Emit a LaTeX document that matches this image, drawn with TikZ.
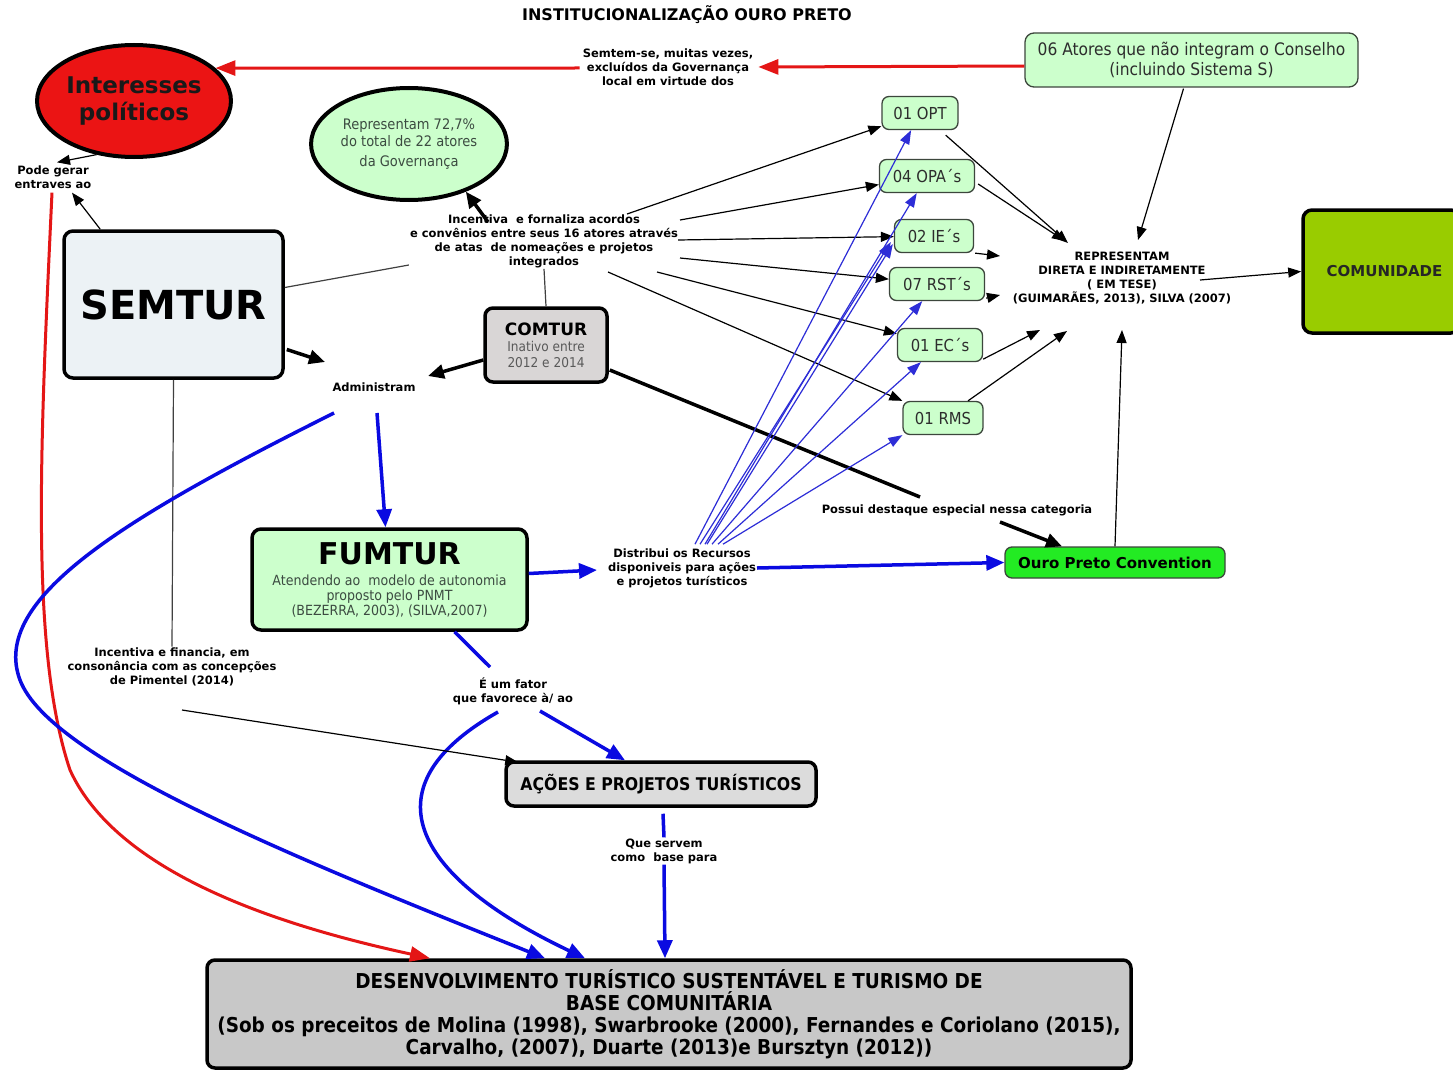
\documentclass[tikz,border=0pt]{standalone}
\usepackage{fontspec}
\setmainfont{DejaVu Sans}
\newfontfamily\cond[Extension=.ttf,UprightFont=DejaVuSansCondensed,BoldFont=DejaVuSansCondensed-Bold]{DejaVuSansCondensed}
\usetikzlibrary{arrows.meta,shapes.geometric,calc}

\definecolor{mint}{RGB}{204,255,204}
\definecolor{boxedge}{RGB}{60,70,60}
\definecolor{boxtext}{RGB}{45,45,45}
\definecolor{softtext}{RGB}{60,75,65}
\definecolor{redfill}{RGB}{235,20,20}
\definecolor{redline}{RGB}{228,22,22}
\definecolor{blueline}{RGB}{10,10,225}
\definecolor{thinblue}{RGB}{45,45,215}
\definecolor{semfill}{RGB}{236,242,245}
\definecolor{comfill}{RGB}{217,214,214}
\definecolor{acofill}{RGB}{220,220,220}
\definecolor{devfill}{RGB}{200,200,200}
\definecolor{comufill}{RGB}{153,204,0}
\definecolor{opcfill}{RGB}{35,235,35}

\newcommand{\lblfont}{\fontsize{11.5}{14}\selectfont\bfseries}

\begin{document}
\begin{tikzpicture}[x=1pt,y=-1pt,
  every node/.style={inner sep=1pt, align=center},
  labeltext/.style={font=\lblfont, text=black},
  bigbox/.style={draw=black, line width=3.5pt, rounded corners=9pt, align=center},
  greenbox/.style={draw=boxedge, fill=mint, rounded corners=7pt, line width=1.3pt,
    minimum height=33pt, font=\cond\fontsize{16.5}{19}\selectfont, text=boxtext},
  tarr/.style={draw=black, line width=1.2pt, -{Triangle[length=13pt,width=10pt]}},
  tline/.style={draw=black!75, line width=1.2pt},
  karr/.style={draw=black, line width=3.5pt, -{Triangle[length=16pt,width=14pt]}},
  kline/.style={draw=black, line width=3.5pt},
  barr/.style={draw=blueline, line width=3.5pt, -{Triangle[length=18pt,width=15pt]}},
  bline/.style={draw=blueline, line width=3.5pt},
  bthin/.style={draw=thinblue, line width=1.2pt, -{Triangle[length=14pt,width=10pt]}},
  rarr/.style={draw=redline, line width=3pt, -{Triangle[length=20pt,width=15pt]}}
]
\useasboundingbox[fill=white] (0,0) rectangle (1453,1070);

% ---------- nodes ----------
\node[font=\fontsize{16}{19}\selectfont\bfseries] (title) at (687,15) {INSTITUCIONALIZAÇÃO OURO PRETO};

\node[ellipse, draw=black, line width=4pt, fill=redfill, minimum width=192pt, minimum height=112pt,
  font=\fontsize{23}{27}\selectfont\bfseries, text=black!90] (int) at (134,101) {Interesses\\políticos};

\node[labeltext] (semlbl) at (668,67) {Semtem-se, muitas vezes,\\excluídos da Governança\\local em virtude dos};

\node[greenbox, minimum width=333pt, minimum height=54pt, rounded corners=9pt,
  font=\cond\fontsize{17.2}{20}\selectfont] (atores) at (1191.5,60)
  {06 Atores que não integram o Conselho\\(incluindo Sistema S)};

\node[ellipse, draw=black, line width=4pt, fill=mint, minimum width=186pt, minimum height=112pt,
  font=\cond\fontsize{14.5}{17}\selectfont, text=softtext] (rep72) at (409,144)
  {Representam 72,7\%\\do total de 22 atores\\[3pt]da Governança};

\node[labeltext] (pode) at (53,177) {Pode gerar\\entraves ao};

\node[bigbox, fill=semfill, minimum width=219pt, minimum height=147pt, font=\fontsize{40}{44}\selectfont\bfseries]
  (sem) at (173.5,304.5) {SEMTUR};

\node[labeltext] (inc) at (544,241) {Incentiva\ \ e fornaliza acordos\\e convênios entre seus 16 atores através\\de atas\ \ de nomeações e projetos\\integrados};

\node[greenbox, minimum width=76pt] (opt) at (920,113) {01 OPT};
\node[greenbox, minimum width=95pt] (opa) at (927,176) {04 OPA´s};
\node[greenbox, minimum width=79pt] (ie)  at (934,236) {02 IE´s};
\node[greenbox, minimum width=95pt] (rst) at (937,284) {07 RST´s};
\node[greenbox, minimum width=85pt] (ec)  at (940,345) {01 EC´s};
\node[greenbox, minimum width=80pt] (rms) at (943,418) {01 RMS};

\node[labeltext] (rep) at (1122,278) {REPRESENTAM\\DIRETA E INDIRETAMENTE\\( EM TESE)\\(GUIMARÃES, 2013), SILVA (2007)};

\node[bigbox, fill=comufill, minimum width=157pt, minimum height=123pt, font=\fontsize{15}{18}\selectfont\bfseries, text=black!85]
  (comu) at (1381.5,271.5) {\hspace*{6pt}COMUNIDADE};

\node[bigbox, fill=comfill, minimum width=122pt, minimum height=74pt, rounded corners=8pt,
  font=\cond\fontsize{13.5}{15.5}\selectfont, text=black!65] (com) at (546,345)
  {{\normalfont\fontsize{17}{19}\selectfont\bfseries\color{black}COMTUR}\\[1pt]
   Inativo entre\\2012 e 2014};

\node[labeltext] (adm) at (374,387) {Administram};

\node[labeltext] (pos) at (957,510) {Possui destaque especial nessa categoria};

\node[draw=boxedge, fill=opcfill, rounded corners=7pt, line width=1.3pt, minimum width=220pt, minimum height=31pt,
  font=\fontsize{15}{18}\selectfont\bfseries] (opc) at (1115,562.5) {Ouro Preto Convention};

\node[bigbox, fill=mint, minimum width=275pt, minimum height=101pt,
  font=\cond\fontsize{14}{15}\selectfont, text=softtext] (fum) at (389.5,579.5)
  {{\normalfont\fontsize{30}{32}\selectfont\bfseries\color{black}FUMTUR}\\[6pt]
   Atendendo ao\ \ modelo de autonomia\\proposto pelo PNMT\\(BEZERRA, 2003), (SILVA,2007)};

\node[labeltext] (dis) at (682,568) {Distribui os Recursos\\disponiveis para ações\\e projetos turísticos};

\node[labeltext] (fat) at (513,691) {É um fator\\que favorece à/ ao};

\node[labeltext] (fin) at (172,667) {Incentiva e financia, em\\consonância com as concepções\\de Pimentel (2014)};

\node[bigbox, fill=acofill, minimum width=310pt, minimum height=44pt, rounded corners=8pt,
  font=\cond\fontsize{17.5}{20}\selectfont\bfseries] (aco) at (661,784) {AÇÕES E PROJETOS TURÍSTICOS};

\node[labeltext] (que) at (664,851) {Que servem\\como\ \ base para};

\node[bigbox, fill=devfill, minimum width=924pt, minimum height=108pt, rounded corners=8pt,
  font=\cond\fontsize{20.5}{22}\selectfont\bfseries] (dev) at (669,1014)
  {DESENVOLVIMENTO TURÍSTICO SUSTENTÁVEL E TURISMO DE\\BASE COMUNITÁRIA\\(Sob os preceitos de Molina (1998), Swarbrooke (2000), Fernandes e Coriolano (2015),\\Carvalho, (2007), Duarte (2013)e Bursztyn (2012))};

% ---------- red connectors ----------
\draw[rarr] ($(atores.west)+(0,6)$) -- ($(semlbl.east)+(4,0)$);
\draw[rarr] ($(semlbl.west)+(-2,1)$) -- (int.22.7);
\draw[rarr] ($(pode.south)+(-1,3)$) .. controls (40,450) and (30,650) .. (70,770)
  .. controls (120,880) and (300,930) .. ($(dev.north)+(-239,0)$);

% ---------- SEMTUR area ----------
\draw[tarr] (int.-125) -- ($(pode.north)+(4,-2)$);
\draw[tarr] ($(sem.north west)+(38,0)$) -- ($(pode.south)+(19,3)$);
\draw[tline] ($(sem.east)+(0,-17)$) -- ($(inc.west)+(0,24)$);
\draw[tline] (inc.south) -- (com.north);
\draw[karr] ($(inc)+(-56,-19)$) -- (rep72.-40);
\draw[karr] ($(sem.east)+(2,45)$) -- ($(adm)+(-49,-25)$);
\draw[karr] ($(com.west)+(0,15)$) -- ($(adm)+(54,-11)$);
\draw[tline] (sem.south) -- (fin.north);

% ---------- Incentiva fan ----------
\draw[tarr] ($(inc)+(83,-27)$) -- (opt);
\draw[tarr] ($(inc)+(136,-21)$) -- (opa);
\draw[tarr] ($(inc)+(134,-1)$) -- (ie);
\draw[tarr] ($(inc)+(136,17)$) -- (rst);
\draw[tarr] ($(inc)+(113,31)$) -- (ec);
\draw[tarr] ($(inc)+(64,31)$) -- (rms.north west);

% ---------- into REPRESENTAM ----------
\draw[tarr] ($(opt.south east)+(-13,5)$) -- ($(rep)+(-54,-35)$);
\draw[tarr] ($(opa.east)+(3,8)$) -- ($(rep)+(-57,-37)$);
\draw[tarr] ($(ie.south east)+(1,0)$) -- ($(rep)+(-122,-22)$);
\draw[tarr] ($(rst.south east)+(1,-3)$) -- ($(rep)+(-122,17)$);
\draw[tarr] ($(ec.south east)+(0,-3)$) -- ($(rep)+(-82,52)$);
\draw[tarr] ($(rms.north)+(25,0)$) -- ($(rep)+(-55,53)$);
\draw[tarr] ($(atores.south)+(-8,1)$) -- ($(rep)+(16,-38)$);
\draw[tarr] (opc.north) -- ($(rep)+(0,52)$);
\draw[tarr] ($(rep)+(78,2)$) -- (comu.west);

% ---------- COMTUR to Convention ----------
\draw[kline] ($(com.east)+(1,25)$) -- ($(pos)+(-37,-13)$);
\draw[karr] ($(pos)+(43,12)$) -- ($(opc.north)+(-53,0)$);

% ---------- blue connectors ----------
\draw[barr] ($(adm)+(3,26)$) -- ($(fum.north)+(-4,0)$);
\draw[barr] ($(adm)+(-40,26)$) .. controls (120,520) and (-10,600) .. (20,680)
  .. controls (50,760) and (300,860) .. ($(dev.north)+(-124,0)$);
\draw[barr] ($(fum.east)+(0,-6)$) -- ($(dis)+(-85,2)$);
\draw[barr] ($(dis)+(75,0)$) -- (opc.west);

\draw[bthin] ($(dis.north)+(13,-3)$) -- (opt);
\draw[bthin] ($(dis.north)+(23,-3)$) -- (opa);
\draw[bthin] ($(dis.north)+(18,-3)$) -- ($(ie.west)+(-3,6)$);
\draw[bthin] ($(dis.north)+(25,-3)$) -- ($(ie.west)+(-1,8)$);
\draw[bthin] ($(dis.north)+(30,-3)$) -- (rst);
\draw[bthin] ($(dis.north)+(36,-3)$) -- (ec);
\draw[bthin] ($(dis.north)+(41,-3)$) -- (rms.south west);

\draw[bline] ($(fum.south)+(65,0)$) -- ($(fat)+(-23,-24)$);
\draw[barr] ($(fat)+(27,20)$) -- ($(aco.north)+(-36,0)$);
\draw[barr] ($(fat)+(-15,21)$) .. controls (360,790) and (420,880) .. ($(dev.north)+(-84,0)$);

\draw[tarr] ($(fin)+(10,43)$) -- ($(aco.north west)+(14,2)$);

\draw[bline] ($(aco.south)+(2,6)$) -- (que.north);
\draw[barr] (que.south) -- ($(dev.north)+(-4,0)$);

\end{tikzpicture}
\end{document}
